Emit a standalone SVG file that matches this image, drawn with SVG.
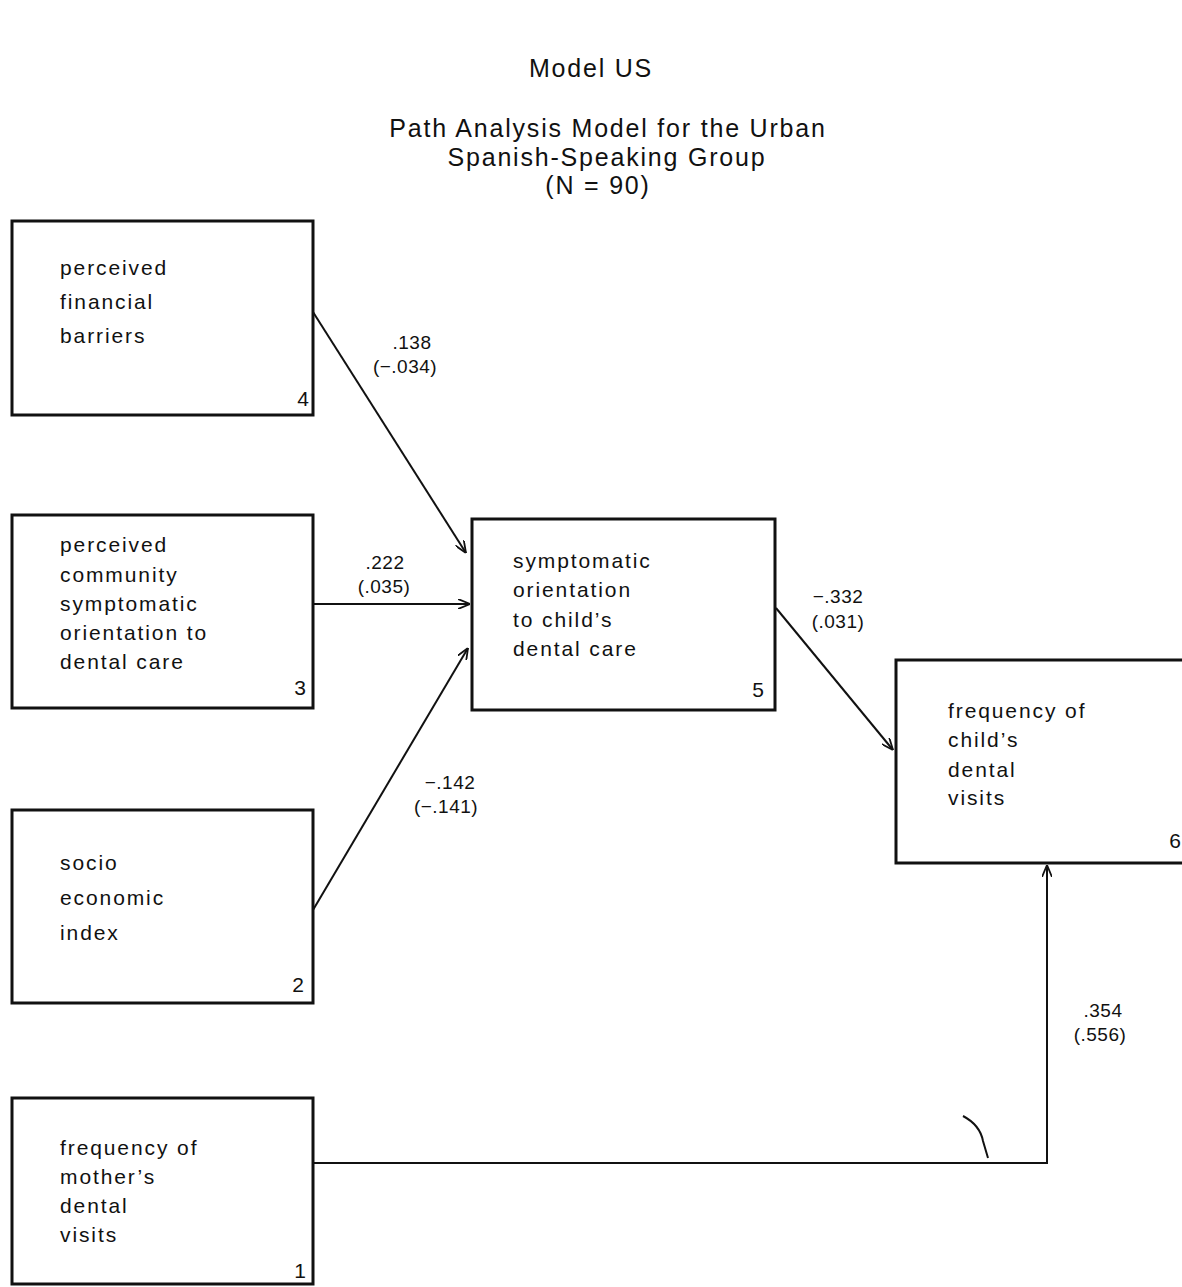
<svg xmlns="http://www.w3.org/2000/svg" width="1182" height="1287" viewBox="0 0 1182 1287">
<style>
.bg{fill:#fff}
.box{fill:none;stroke:#111;stroke-width:3}
.t{font-family:"Liberation Sans",Arial,sans-serif;font-size:21px;letter-spacing:1.9px;fill:#111}
.n{font-family:"Liberation Sans",Arial,sans-serif;font-size:21px;fill:#111;text-anchor:end}
.title{font-family:"Liberation Sans",Arial,sans-serif;font-size:25px;letter-spacing:1.8px;fill:#111;text-anchor:middle}
.lab{font-family:"Liberation Sans",Arial,sans-serif;font-size:19px;letter-spacing:0.5px;fill:#111;text-anchor:middle}
.c{fill:none;stroke:#111;stroke-width:2}
</style>
<defs>
<marker id="ah" viewBox="0 0 12 10" refX="12" refY="5" markerWidth="12" markerHeight="10" markerUnits="userSpaceOnUse" orient="auto">
<path d="M0,0 L12,5 L0,10" fill="none" stroke="#111" stroke-width="1.8"/>
</marker>
</defs>
<rect class="bg" x="0" y="0" width="1182" height="1287"/>
<g id="title">
<text class="title" x="591" y="77">Model US</text>
<text class="title" x="608" y="137">Path Analysis Model for the Urban</text>
<text class="title" x="607" y="166">Spanish-Speaking Group</text>
<text class="title" x="598" y="194">(N = 90)</text>
</g>
<g id="connectors">
<line class="c" x1="313" y1="312" x2="466" y2="553" marker-end="url(#ah)"/>
<line class="c" x1="313" y1="604" x2="470" y2="604" marker-end="url(#ah)"/>
<line class="c" x1="313" y1="910" x2="468" y2="648" marker-end="url(#ah)"/>
<line class="c" x1="776" y1="608" x2="893" y2="750" marker-end="url(#ah)"/>
<polyline class="c" points="313,1163 1047,1163 1047,865" marker-end="url(#ah)"/>
<path class="c" d="M963,1116 Q980,1125 983,1141 L988,1158"/>
</g>
<g id="labels">
<text class="lab" x="412" y="349">.138</text>
<text class="lab" x="405" y="373">(−.034)</text>
<text class="lab" x="385" y="569">.222</text>
<text class="lab" x="384" y="593">(.035)</text>
<text class="lab" x="450" y="789">−.142</text>
<text class="lab" x="446" y="813">(−.141)</text>
<text class="lab" x="838" y="603">−.332</text>
<text class="lab" x="838" y="628">(.031)</text>
<text class="lab" x="1103" y="1017">.354</text>
<text class="lab" x="1100" y="1041">(.556)</text>
</g>
<g id="node4">
<rect class="box" x="12" y="221" width="301" height="194"/>
<text class="t" x="60" y="275">perceived</text>
<text class="t" x="60" y="309">financial</text>
<text class="t" x="60" y="343">barriers</text>
<text class="n" x="309" y="406">4</text>
</g>
<g id="node3">
<rect class="box" x="12" y="515" width="301" height="193"/>
<text class="t" x="60" y="552">perceived</text>
<text class="t" x="60" y="582">community</text>
<text class="t" x="60" y="611">symptomatic</text>
<text class="t" x="60" y="640">orientation to</text>
<text class="t" x="60" y="669">dental care</text>
<text class="n" x="306" y="695">3</text>
</g>
<g id="node2">
<rect class="box" x="12" y="810" width="301" height="193"/>
<text class="t" x="60" y="870">socio</text>
<text class="t" x="60" y="905">economic</text>
<text class="t" x="60" y="940">index</text>
<text class="n" x="304" y="992">2</text>
</g>
<g id="node1">
<rect class="box" x="12" y="1098" width="301" height="186"/>
<text class="t" x="60" y="1155">frequency of</text>
<text class="t" x="60" y="1184">mother’s</text>
<text class="t" x="60" y="1213">dental</text>
<text class="t" x="60" y="1242">visits</text>
<text class="n" x="306" y="1278">1</text>
</g>
<g id="node5">
<rect class="box" x="472" y="519" width="303" height="191"/>
<text class="t" x="513" y="568">symptomatic</text>
<text class="t" x="513" y="597">orientation</text>
<text class="t" x="513" y="627">to child’s</text>
<text class="t" x="513" y="656">dental care</text>
<text class="n" x="764" y="697">5</text>
</g>
<g id="node6">
<rect class="box" x="896" y="660" width="300" height="203"/>
<text class="t" x="948" y="718">frequency of</text>
<text class="t" x="948" y="747">child’s</text>
<text class="t" x="948" y="777">dental</text>
<text class="t" x="948" y="805">visits</text>
<text class="n" x="1181" y="848">6</text>
</g>
</svg>
